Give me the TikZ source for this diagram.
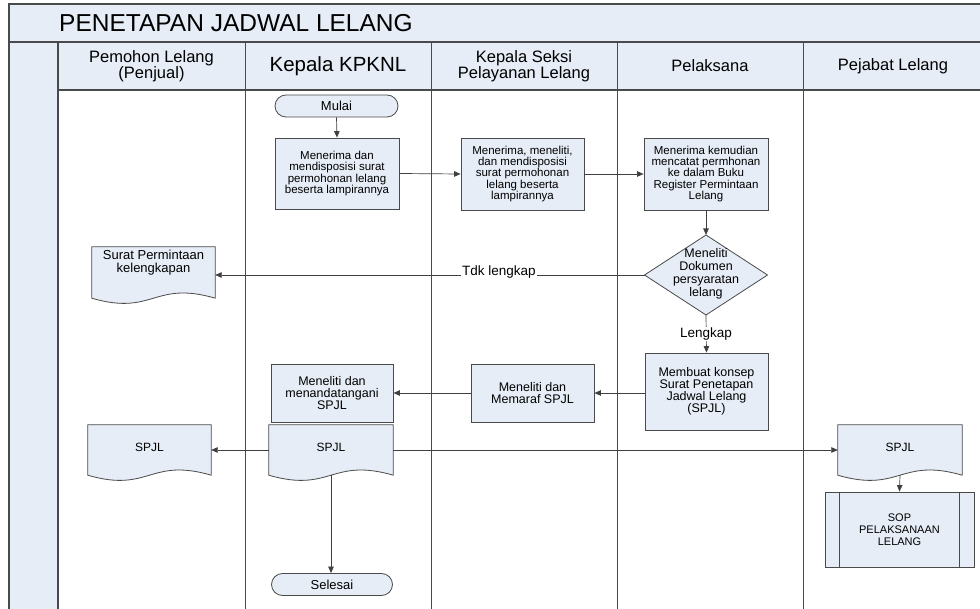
\documentclass[tikz,border=0pt]{standalone}
\usepackage{fontspec}
\setmainfont{Liberation Sans}
\usetikzlibrary{arrows.meta,calc,backgrounds}
\definecolor{lb}{HTML}{E6EDF7}
\definecolor{bd}{HTML}{4A4A4A}
\definecolor{ln}{HTML}{404040}
\newcommand{\docwave}[1]{%
  \path[draw=bd, fill=lb, line width=0.8pt] (#1.north west) -- (#1.north east) -- (#1.south east)
    .. controls ($(#1.south)+(0,-18)$) and ($(#1.south)+(0,18)$) .. (#1.south west) -- cycle;}
\begin{document}
\begin{tikzpicture}[x=1pt,y=-1pt,
  frame/.style={draw=bd, line width=1.1pt},
  lane/.style={draw=bd, line width=0.8pt},
  proc/.style={draw=bd, fill=lb, line width=0.8pt, align=center, inner sep=1pt,
    font=\fontsize{11.5}{11.3}\selectfont},
  procb/.style={proc, font=\fontsize{12.5}{12}\selectfont},
  term/.style={draw=bd, fill=lb, line width=0.8pt, rounded corners=11pt, inner sep=1pt,
    minimum height=22pt, font=\fontsize{13}{14}\selectfont},
  docnode/.style={draw=none, fill=none, align=center, inner sep=1pt,
    font=\fontsize{12}{13}\selectfont},
  hdr/.style={align=center, inner sep=0pt, font=\fontsize{16.5}{15}\selectfont},
  lbl/.style={fill=white, inner sep=1pt, font=\fontsize{13.5}{14}\selectfont},
  arr/.style={draw=ln, line width=0.7pt, -{Triangle[length=6.5pt,width=5.5pt]}},
]
\useasboundingbox (0,0) rectangle (980,609);
% frame
\fill[lb] (9,4) rectangle (990,42);
\fill[lb] (58,42) rectangle (990,90);
\fill[lb] (9,42) rectangle (58,615);
\draw[frame] (990,4) -- (9,4) -- (9,615);
\draw[frame] (9,42) -- (990,42);
\draw[frame] (58,42) -- (58,615);
\draw[frame] (58,90) -- (990,90);
\foreach \cx in {245,431,617,803} \draw[lane] (\cx,42) -- (\cx,615);
% title and headers
\node[anchor=west, inner sep=0pt, font=\fontsize{24.5}{27}\selectfont] (title) at (59,23) {PENETAPAN JADWAL LELANG};
\node[hdr] (h1) at (151.5,66) {Pemohon Lelang\\(Penjual)};
\node[hdr, font=\fontsize{20.5}{22}\selectfont] (h2) at (338,66) {Kepala KPKNL};
\node[hdr] (h3) at (524,66) {Kepala Seksi\\Pelayanan Lelang};
\node[hdr] (h4) at (710,66) {Pelaksana};
\node[hdr] (h5) at (893,66) {Pejabat Lelang};
% process nodes
\node[term, minimum width=123pt] (mulai) at (336.5,106) {Mulai};
\node[proc, minimum width=124pt, minimum height=71pt] (box1) at (337,173.5)
  {Menerima dan\\mendisposisi surat\\permohonan lelang\\beserta lampirannya};
\node[proc, minimum width=123pt, minimum height=72pt] (box2) at (522.5,174)
  {Menerima, meneliti,\\dan mendisposisi\\surat permohonan\\lelang beserta\\lampirannya};
\node[proc, minimum width=124pt, minimum height=72pt] (box3) at (706,174)
  {Menerima kemudian\\mencatat permhonan\\ke dalam Buku\\Register Permintaan\\Lelang};
% decision
\coordinate (dian) at (706,235);
\coordinate (dias) at (706,315);
\coordinate (diaw) at (644.5,275);
\coordinate (diae) at (767.5,275);
\draw[draw=bd, fill=lb, line width=0.8pt] (dian) -- (diae) -- (dias) -- (diaw) -- cycle;
\node[align=center, inner sep=0pt, font=\fontsize{12.5}{13}\selectfont] (dia) at (706,274)
  {Meneliti\\Dokumen\\persyaratan\\lelang};
\node[procb, minimum width=123pt, minimum height=77pt] (membuat) at (706.5,391.5)
  {Membuat konsep\\Surat Penetapan\\Jadwal Lelang\\(SPJL)};
\node[procb, minimum width=123pt, minimum height=58pt] (memaraf) at (532.5,393)
  {Meneliti dan\\Memaraf SPJL};
\node[procb, minimum width=122pt, minimum height=58pt] (menand) at (332,393)
  {Meneliti dan\\menandatangani\\SPJL};
% documents
\node[docnode, minimum width=123pt, minimum height=51pt, text depth=23pt,
  font=\fontsize{13}{13}\selectfont] (surat) at (153.5,272.5) {Surat Permintaan\\kelengkapan};
\node[docnode, minimum width=123pt, minimum height=50pt, text depth=6pt] (spjl1) at (149.5,450) {SPJL};
\node[docnode, minimum width=124pt, minimum height=50pt, text depth=6pt] (spjl2) at (331,450) {SPJL};
\node[docnode, minimum width=124pt, minimum height=50pt, text depth=6pt] (spjl3) at (900,450) {SPJL};
\begin{scope}[on background layer]
  \docwave{surat}
  \docwave{spjl1}
  \docwave{spjl2}
  \docwave{spjl3}
\end{scope}
\node[proc, minimum width=149pt, minimum height=75pt, font=\fontsize{11}{12}\selectfont] (sop) at (899.5,529.5)
  {SOP\\PELAKSANAAN\\LELANG};
\draw[draw=bd, line width=0.8pt] ([xshift=15pt]sop.north west) -- ([xshift=15pt]sop.south west);
\draw[draw=bd, line width=0.8pt] ([xshift=-15pt]sop.north east) -- ([xshift=-15pt]sop.south east);
\node[term, minimum width=121pt] (selesai) at (332,584.5) {Selesai};
% connectors
\draw[arr] (mulai.south) -- (box1.north);
\draw[arr] (box1.east) -- (box2.west);
\draw[arr] (box2.east) -- (box3.west);
\draw[arr] (box3.south) -- (dian);
\draw[arr] (diaw) -- (diaw -| surat.east);
\node[lbl] (tdk) at (499,272) {Tdk lengkap};
\draw[arr] (dias) -- (membuat.north);
\node[lbl] (lengkap) at (706,334) {Lengkap};
\draw[arr] (membuat.west |- memaraf.east) -- (memaraf.east);
\draw[arr] (memaraf.west) -- (menand.east);
\draw[arr] (spjl2.west) -- (spjl1.east);
\draw[arr] (spjl2.east) -- (spjl3.west);
\draw[arr] (spjl3.south) -- (sop.north);
\draw[arr] (spjl2.south) -- (spjl2.south |- selesai.north);
\end{tikzpicture}
\end{document}
